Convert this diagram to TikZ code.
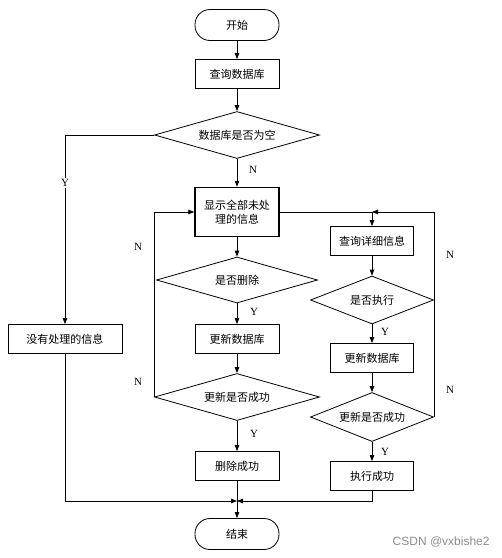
\documentclass[tikz,border=0pt]{standalone}
\usepackage{fontspec}
\setmainfont{Liberation Serif}
\newfontfamily\cjk{Noto Sans CJK SC}
\newfontfamily\wmfont{Liberation Sans}
\usetikzlibrary{shapes.geometric,arrows.meta}
\begin{document}
\begin{tikzpicture}
  [x=1pt,y=-1pt,line width=0.8pt,>={Triangle[length=6pt,width=4.5pt]},
   every node/.style={draw=black,inner sep=0pt,font=\cjk\fontsize{11}{14}\selectfont},
   terminal/.style={rectangle,rounded corners=15pt,minimum width=84pt,minimum height=31pt},
   process/.style={rectangle,minimum width=84pt,minimum height=29pt},
   decision/.style={diamond,aspect=3.5,minimum width=165pt,minimum height=47pt},
   lbl/.style={draw=none,font=\fontsize{11}{13}\selectfont}]
  \useasboundingbox (0,0) rectangle (502,558);

  % Hauptzweig
  \node[terminal] (start) at (237,25) {开始};
  \node[process] (query) at (237,74) {查询数据库};
  \node[decision] (empty) at (237,135) {数据库是否为空};
  \node[process,minimum height=49pt,line width=1.4pt,align=center] (show) at (237,212) {显示全部未处\\理的信息};
  \node[decision,minimum width=161pt,minimum height=46pt] (del) at (237,280) {是否删除};
  \node[process] (upd) at (237,339) {更新数据库};
  \node[decision] (ok) at (237,397) {更新是否成功};
  \node[process] (delok) at (237,466) {删除成功};
  \node[terminal] (end) at (237,534) {结束};

  % linker Zweig
  \node[process,minimum width=114pt] (none) at (65,339) {没有处理的信息};

  % rechter Zweig
  \node[process,minimum width=83pt] (detail) at (372,241) {查询详细信息};
  \node[decision,minimum width=123pt,minimum height=48pt] (exec) at (372,300) {是否执行};
  \node[process,minimum width=83pt] (upd2) at (372,358) {更新数据库};
  \node[decision,minimum width=123pt,minimum height=49pt] (ok2) at (372,417) {更新是否成功};
  \node[process,minimum width=83pt] (execok) at (372,476) {执行成功};

  \coordinate (jr) at (372,212);
  \coordinate (jn) at (237,501);

  % Pfeile
  \foreach \from/\to in {start/query, query/empty, empty/show, show/del, del/upd,
      upd/ok, ok/delok, delok/end, detail/exec, exec/upd2, upd2/ok2, ok2/execok}
    \draw[->] (\from) -- (\to);

  \draw[->] (empty.west) -| (none.north);
  \draw[->] (none.south) |- (jn);
  \draw[->] (execok.south) |- (jn);
  \draw[->] (ok.west) |- (show.west);
  \draw[->] (show.east) -- (jr) -- (detail.north);
  \draw[->] (ok2.east) -- (exec.east) |- (jr);

  % Beschriftungen
  \node[lbl] (nempty) at (253,170) {N};
  \node[lbl,fill=white,inner sep=1pt] (yempty) at (65,183) {Y};
  \node[lbl] (ydel) at (254,312) {Y};
  \node[lbl] (ndel) at (138,247) {N};
  \node[lbl] (nok) at (138,382) {N};
  \node[lbl] (yok) at (254,434) {Y};
  \node[lbl] (yexec) at (385,332) {Y};
  \node[lbl] (nexec) at (450,255) {N};
  \node[lbl] (nok2) at (450,390) {N};
  \node[lbl] (yok2) at (385,452) {Y};

  \node[draw=none,text=black!45,font=\wmfont\fontsize{12}{14}\selectfont,anchor=east] (wm) at (490,542) {CSDN @vxbishe2};
\end{tikzpicture}
\end{document}
